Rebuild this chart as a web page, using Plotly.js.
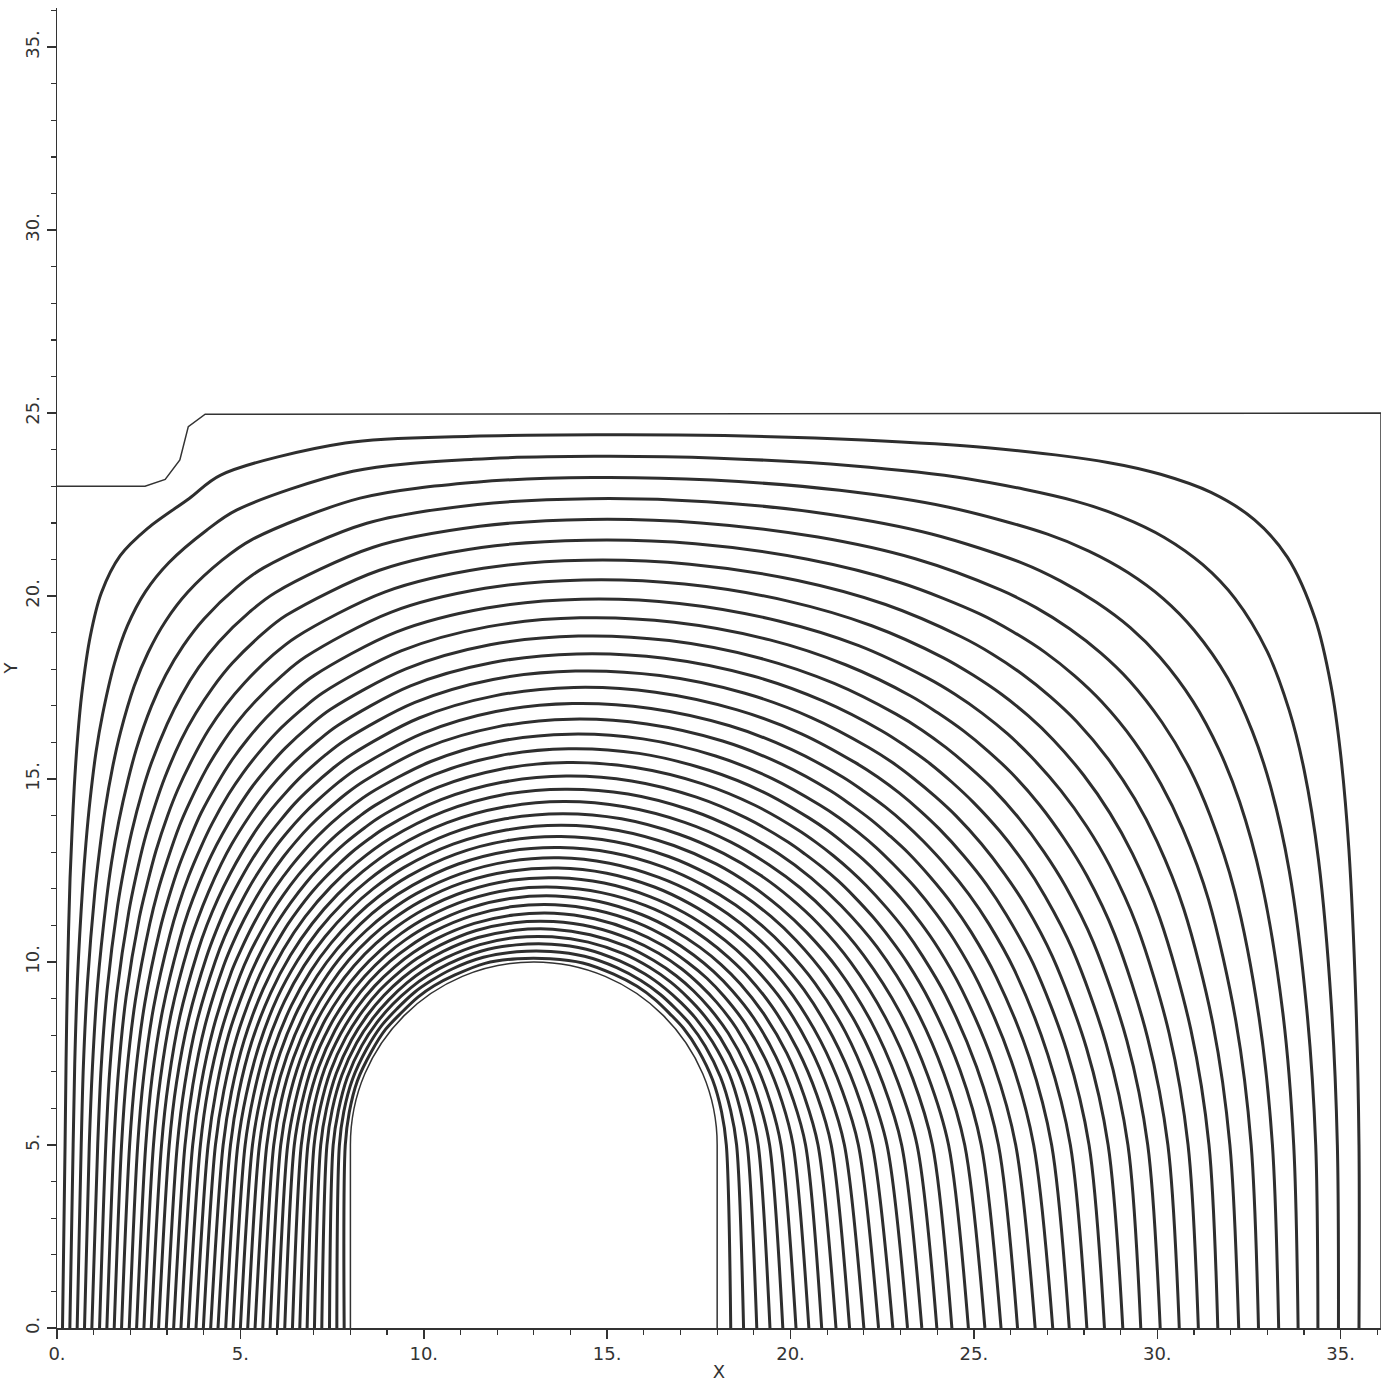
<!DOCTYPE html>
<html><head><meta charset="utf-8">
<script src="https://cdn.plot.ly/plotly-3.0.1.min.js"></script>
<style>html,body{margin:0;padding:0;background:#fff}#chart{width:1391px;height:1382px}</style>
</head><body><div id="chart"></div>
<script>
// Contour index k = 1 (next to the opening) ... 39 (outermost); every array is in k order.
// Where each contour meets the floor y = 0, left and right of the opening
const xLeftAtY0 = [7.83,7.63,7.43,7.22,7.02,6.82,6.62,6.42,6.21,6.01,5.81,5.61,5.40,5.20,5.00,4.80,4.60,4.39,4.19,3.99,3.79,3.58,3.38,3.18,2.98,2.77,2.57,2.37,2.17,1.97,1.76,1.56,1.36,1.16,0.95,0.75,0.55,0.35,0.15];
const xRightAtY0 = [18.37,18.72,19.08,19.44,19.79,20.15,20.50,20.85,21.24,21.61,22.00,22.40,22.79,23.19,23.58,23.99,24.40,24.85,25.30,25.74,26.19,26.67,27.15,27.60,28.08,28.56,29.06,29.55,30.08,30.60,31.12,31.65,32.22,32.76,33.31,33.84,34.38,34.94,35.50];
// Distance of each contour from the crown centre (13, 5) along rays at these angles (degrees);
// null = not sampled on that ray (inner contours are round enough without it)
const _ = null;
const r180 = [5.14,5.30,5.47,5.64,5.81,5.99,6.16,6.34,6.53,6.71,6.90,7.09,7.28,7.48,7.67,7.87,8.07,8.27,8.47,8.68,8.88,9.09,9.30,9.51,9.72,9.94,10.15,10.37,10.58,10.80,11.02,11.24,11.45,11.67,11.89,12.12,12.34,12.56,12.78];
const r170 = [5.11,5.26,5.41,5.58,5.74,5.91,6.08,6.26,6.43,6.61,6.80,6.99,7.18,7.37,7.56,7.76,7.96,8.17,8.37,8.58,8.79,9.01,9.22,9.44,9.66,9.89,10.11,10.34,10.57,10.80,11.03,11.27,11.50,11.74,11.98,12.22,12.47,12.71,12.95];
const r160 = [5.12,5.26,5.41,5.57,5.73,5.90,6.07,6.24,6.42,6.60,6.78,6.97,7.16,7.36,7.56,7.77,7.97,8.19,8.40,8.62,8.85,9.07,9.30,9.54,9.78,10.02,10.27,10.52,10.77,11.03,11.29,11.56,11.83,12.10,12.38,12.66,12.95,13.24,13.53];
const r150 = [5.11,5.26,5.42,5.58,5.74,5.91,6.08,6.26,6.44,6.63,6.82,7.01,7.21,7.42,7.63,7.85,8.07,8.29,8.52,8.76,9.00,9.25,9.51,9.77,10.03,10.30,10.58,10.87,11.16,11.46,11.77,12.09,12.42,12.75,13.10,13.45,13.82,14.20,14.60];
const r146 = [_,_,_,_,_,_,_,_,_,_,_,_,_,_,_,_,_,_,_,8.84,9.09,9.35,9.61,9.89,10.17,10.45,10.75,11.05,11.37,11.69,12.02,12.37,12.72,13.09,13.48,13.88,14.29,14.73,15.19];
const r142 = [5.13,5.28,5.43,5.59,5.76,5.93,6.11,6.29,6.48,6.67,6.87,7.07,7.28,7.50,7.72,7.95,8.18,8.42,8.67,8.92,9.19,9.45,9.73,10.02,10.31,10.62,10.93,11.25,11.59,11.94,12.30,12.67,13.07,13.48,13.91,14.36,14.84,15.35,15.90];
const r138 = [_,_,_,_,_,_,_,_,_,_,_,_,_,_,_,_,_,_,_,9.02,9.29,9.57,9.86,10.16,10.47,10.79,11.12,11.47,11.83,12.20,12.59,13.01,13.44,13.89,14.38,14.89,15.45,16.06,16.73];
const r135 = [5.11,5.27,5.44,5.60,5.78,5.96,6.14,6.33,6.52,6.72,6.93,7.14,7.36,7.58,7.81,8.05,8.30,8.55,8.82,9.09,9.37,9.66,9.96,10.27,10.59,10.93,11.27,11.64,12.01,12.41,12.83,13.26,13.73,14.22,14.75,15.32,15.94,16.63,17.43];
const r131 = [_,_,_,_,_,_,_,_,_,_,_,_,_,_,_,_,_,_,_,9.19,9.48,9.78,10.09,10.42,10.76,11.11,11.48,11.86,12.26,12.69,13.13,13.61,14.11,14.66,15.24,15.89,16.61,17.43,18.43];
const r128 = [5.13,5.29,5.45,5.62,5.80,5.98,6.17,6.37,6.57,6.77,6.99,7.21,7.43,7.67,7.91,8.16,8.42,8.69,8.97,9.26,9.56,9.87,10.19,10.53,10.88,11.24,11.63,12.03,12.45,12.89,13.36,13.86,14.40,14.97,15.60,16.30,17.08,18.00,19.15];
const r125 = [_,_,_,_,_,_,_,_,_,_,_,_,_,_,_,_,_,_,_,9.33,9.64,9.96,10.29,10.64,11.00,11.38,11.77,12.19,12.62,13.08,13.57,14.10,14.66,15.26,15.93,16.66,17.49,18.46,19.66];
const r122 = [5.13,5.29,5.46,5.64,5.82,6.01,6.20,6.40,6.61,6.82,7.04,7.27,7.50,7.75,8.00,8.26,8.53,8.81,9.10,9.41,9.72,10.05,10.39,10.74,11.11,11.50,11.91,12.34,12.79,13.27,13.77,14.31,14.89,15.52,16.21,16.96,17.81,18.77,19.87];
const r118 = [_,_,_,_,_,_,_,_,_,_,_,_,_,_,_,_,_,_,_,9.50,9.82,10.16,10.51,10.88,11.26,11.66,12.08,12.52,12.99,13.48,14.01,14.56,15.16,15.80,16.50,17.26,18.10,19.02,20.01];
const r115 = [5.12,5.30,5.47,5.65,5.84,6.03,6.23,6.44,6.65,6.87,7.10,7.34,7.58,7.83,8.10,8.37,8.65,8.95,9.25,9.57,9.90,10.24,10.60,10.97,11.36,11.77,12.20,12.65,13.13,13.63,14.16,14.72,15.32,15.97,16.66,17.41,18.24,19.15,20.20];
const r105 = [5.14,5.31,5.49,5.67,5.87,6.07,6.27,6.49,6.71,6.94,7.18,7.43,7.68,7.95,8.23,8.51,8.81,9.12,9.44,9.77,10.12,10.48,10.85,11.25,11.65,12.08,12.52,12.99,13.47,13.98,14.51,15.07,15.65,16.26,16.91,17.59,18.30,19.06,19.86];
const r95 = [5.11,5.30,5.49,5.69,5.89,6.10,6.31,6.54,6.77,7.01,7.26,7.51,7.78,8.06,8.35,8.64,8.95,9.27,9.61,9.95,10.31,10.68,11.07,11.47,11.89,12.32,12.77,13.23,13.72,14.22,14.73,15.27,15.82,16.39,16.97,17.57,18.18,18.81,19.44];
const r85 = [5.11,5.31,5.51,5.71,5.92,6.13,6.36,6.59,6.83,7.07,7.33,7.60,7.88,8.16,8.46,8.77,9.09,9.42,9.76,10.12,10.49,10.87,11.27,11.68,12.11,12.55,13.00,13.47,13.96,14.46,14.97,15.50,16.04,16.59,17.16,17.73,18.31,18.89,19.48];
const r75 = [5.15,5.34,5.54,5.74,5.95,6.17,6.40,6.64,6.89,7.14,7.41,7.69,7.97,8.27,8.58,8.90,9.23,9.57,9.93,10.30,10.68,11.08,11.49,11.91,12.35,12.81,13.28,13.77,14.27,14.79,15.32,15.87,16.43,17.01,17.60,18.20,18.81,19.43,20.07];
const r65 = [5.15,5.35,5.55,5.77,5.99,6.21,6.45,6.70,6.95,7.22,7.49,7.78,8.07,8.38,8.70,9.03,9.37,9.73,10.10,10.49,10.89,11.30,11.73,12.18,12.64,13.12,13.62,14.14,14.67,15.23,15.80,16.40,17.02,17.66,18.33,19.02,19.74,20.48,21.26];
const r57 = [5.17,5.36,5.57,5.79,6.01,6.25,6.49,6.74,7.00,7.28,7.56,7.85,8.16,8.47,8.80,9.15,9.50,9.87,10.25,10.65,11.07,11.50,11.94,12.41,12.89,13.40,13.92,14.47,15.04,15.64,16.27,16.92,17.61,18.33,19.10,19.91,20.78,21.71,22.72];
const r50 = [5.17,5.37,5.58,5.81,6.04,6.28,6.52,6.78,7.05,7.33,7.62,7.92,8.24,8.56,8.90,9.25,9.62,9.99,10.39,10.80,11.23,11.67,12.13,12.62,13.12,13.64,14.19,14.77,15.37,16.01,16.67,17.38,18.13,18.94,19.80,20.75,21.79,22.97,24.35];
const r47 = [_,_,_,_,_,_,_,_,_,_,_,_,_,_,_,_,_,_,_,10.86,11.30,11.75,12.22,12.70,13.21,13.75,14.31,14.89,15.51,16.15,16.84,17.56,18.34,19.17,20.08,21.07,22.19,23.48,25.06];
const r44 = [5.16,5.37,5.59,5.82,6.06,6.30,6.56,6.82,7.10,7.38,7.68,7.99,8.31,8.64,8.99,9.34,9.72,10.11,10.51,10.93,11.37,11.82,12.30,12.79,13.31,13.85,14.41,15.01,15.63,16.29,16.99,17.73,18.52,19.38,20.31,21.34,22.52,23.90,25.67];
const r41 = [_,_,_,_,_,_,_,_,_,_,_,_,_,_,_,_,_,_,_,11.00,11.44,11.90,12.38,12.87,13.40,13.94,14.51,15.11,15.74,16.41,17.12,17.87,18.67,19.54,20.49,21.55,22.75,24.17,26.04];
const r38 = [5.18,5.39,5.61,5.84,6.08,6.33,6.59,6.86,7.15,7.44,7.74,8.06,8.38,8.72,9.08,9.44,9.83,10.22,10.63,11.06,11.51,11.97,12.45,12.96,13.48,14.03,14.61,15.21,15.85,16.52,17.22,17.98,18.79,19.66,20.61,21.66,22.85,24.26,26.08];
const r34 = [_,_,_,_,_,_,_,_,_,_,_,_,_,_,_,_,_,_,_,11.15,11.60,12.07,12.56,13.06,13.59,14.14,14.72,15.33,15.96,16.63,17.33,18.08,18.88,19.74,20.66,21.68,22.82,24.12,25.70];
const r30 = [5.18,5.40,5.63,5.87,6.12,6.38,6.65,6.93,7.22,7.52,7.84,8.16,8.50,8.85,9.21,9.59,9.98,10.38,10.81,11.24,11.70,12.17,12.66,13.17,13.70,14.25,14.82,15.43,16.05,16.71,17.41,18.14,18.92,19.74,20.63,21.58,22.62,23.78,25.10];
const r26 = [_,_,_,_,_,_,_,_,_,_,_,_,_,_,_,_,_,_,_,11.34,11.79,12.27,12.76,13.27,13.80,14.34,14.92,15.51,16.13,16.78,17.46,18.16,18.91,19.69,20.52,21.41,22.35,23.37,24.47];
const r20 = [5.19,5.42,5.67,5.92,6.18,6.45,6.74,7.03,7.34,7.65,7.98,8.32,8.67,9.04,9.41,9.80,10.20,10.62,11.05,11.49,11.95,12.42,12.91,13.42,13.95,14.49,15.05,15.63,16.23,16.85,17.50,18.16,18.86,19.58,20.33,21.11,21.92,22.77,23.65];
const r10 = [5.20,5.45,5.71,5.99,6.27,6.56,6.87,7.18,7.50,7.84,8.18,8.54,8.91,9.28,9.67,10.07,10.49,10.91,11.35,11.80,12.26,12.73,13.22,13.72,14.23,14.76,15.30,15.85,16.42,16.99,17.59,18.19,18.81,19.44,20.08,20.74,21.40,22.08,22.76];
const r0 = [5.25,5.53,5.82,6.12,6.43,6.74,7.07,7.41,7.75,8.11,8.47,8.85,9.23,9.63,10.03,10.45,10.87,11.31,11.75,12.20,12.67,13.14,13.63,14.12,14.63,15.14,15.66,16.20,16.74,17.29,17.84,18.41,18.98,19.56,20.14,20.72,21.32,21.91,22.50];
const rayAngles = [180,170,160,150,146,142,138,135,131,128,125,122,118,115,105,95,85,75,65,57,50,47,44,41,38,34,30,26,20,10,0];
const rayRadii = [r180,r170,r160,r150,r146,r142,r138,r135,r131,r128,r125,r122,r118,r115,r105,r95,r85,r75,r65,r57,r50,r47,r44,r41,r38,r34,r30,r26,r20,r10,r0];

// Domain outline (thin line) and the opening
const boundaryX = [0, 2.40, 2.95, 3.35, 3.58, 4.04, 36.1, 36.1];
const boundaryY = [23, 23.00, 23.19, 23.72, 24.63, 24.97, 25, 0];
const openingLeft = 8, openingRight = 18, openingWallTop = 5, openingCenterX = 13, openingRadius = 5;
const rayCenterX = 13, rayCenterY = 5;

const traces = [];
for (let i = 0; i < xLeftAtY0.length; i++) {
  const xs = [xLeftAtY0[i]], ys = [0];
  rayAngles.forEach((a, j) => {
    const r = rayRadii[j][i];
    if (r == null) return;
    const t = a * Math.PI / 180;
    xs.push(rayCenterX + r * Math.cos(t)); ys.push(rayCenterY + r * Math.sin(t));
  });
  xs.push(xRightAtY0[i]); ys.push(0);
  traces.push({type:'scatter', mode:'lines', x:xs, y:ys,
    line:{color:'#2e2e2e', width:3, shape:'spline', smoothing:0.9}, hoverinfo:'skip', showlegend:false});
}
traces.push({type:'scatter', mode:'lines', x:boundaryX, y:boundaryY,
  line:{color:'#333', width:1.5}, hoverinfo:'skip', showlegend:false});

const kap = 0.5523 * openingRadius, crownY = openingWallTop + openingRadius;
const openingPath = `M ${openingLeft},0 L ${openingLeft},${openingWallTop} ` +
  `C ${openingLeft},${openingWallTop+kap} ${openingCenterX-kap},${crownY} ${openingCenterX},${crownY} ` +
  `C ${openingCenterX+kap},${crownY} ${openingRight},${openingWallTop+kap} ${openingRight},${openingWallTop} L ${openingRight},0`;

const fnt = {family:'DejaVu Sans, sans-serif', size:18, color:'#333'};
const axisCommon = {
  showgrid:false, zeroline:false, showline:true, linecolor:'#333', linewidth:1.5,
  tickmode:'linear', tick0:0, dtick:5, ticksuffix:'.', ticks:'outside', ticklen:9, tickwidth:1.5, tickcolor:'#333',
  minor:{dtick:1, tick0:0, ticks:'outside', ticklen:5, tickwidth:1.2, tickcolor:'#333', showgrid:false},
  tickfont:fnt, automargin:false, fixedrange:true
};
const layout = {
  width:1391, height:1382, margin:{l:57, r:10, t:8, b:54},
  paper_bgcolor:'#fff', plot_bgcolor:'#fff', showlegend:false,
  xaxis:Object.assign({}, axisCommon, {range:[0,36.1], title:{text:'X', font:fnt, standoff:2}}),
  yaxis:Object.assign({}, axisCommon, {range:[0,36.07], tickangle:-90, title:{text:'Y', font:fnt, standoff:4}}),
  shapes:[{type:'path', xref:'x', yref:'y', path:openingPath, line:{color:'#333', width:1.5}}]
};
Plotly.newPlot('chart', traces, layout, {staticPlot:true, displayModeBar:false});
</script></body></html>
